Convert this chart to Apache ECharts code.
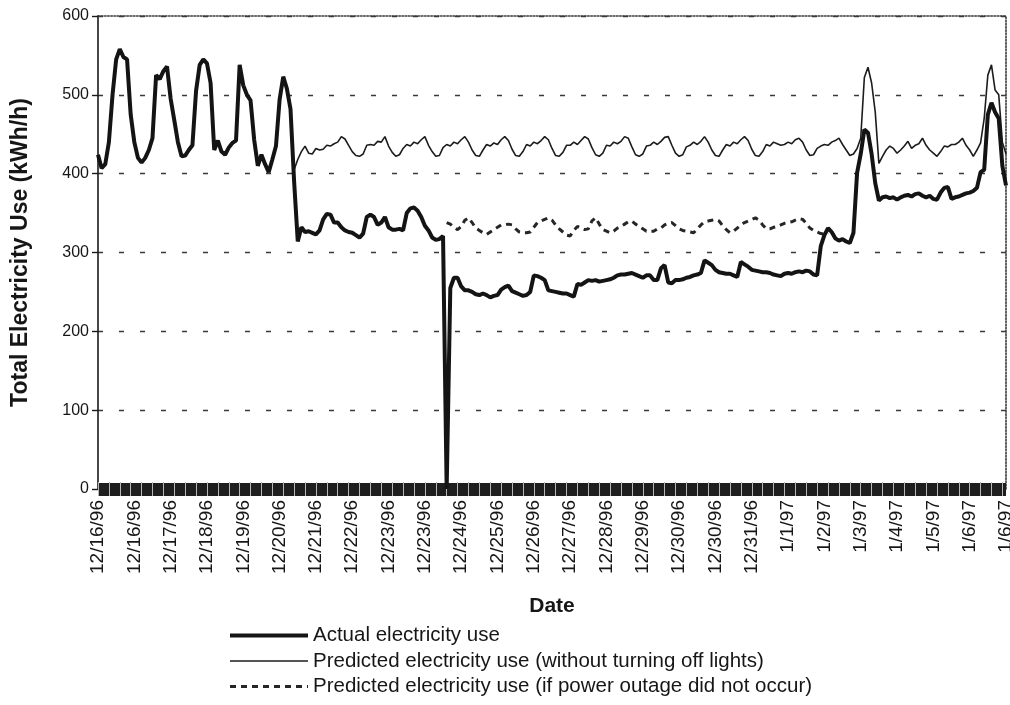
<!DOCTYPE html>
<html>
<head>
<meta charset="utf-8">
<script src="https://cdn.jsdelivr.net/npm/echarts@6/dist/echarts.min.js"></script>
<style>
  html, body { margin: 0; padding: 0; background: #fff; }
  #chart { width: 1010px; height: 705px; }
</style>
</head>
<body>
<div id="chart"></div>
<script>
// Date labels printed under every tenth reading (2-hour readings, 12/16/96 - 1/6/97)
const dateLabels = [
  '12/16/96', '12/16/96', '12/17/96', '12/18/96', '12/19/96', '12/20/96', '12/21/96',
  '12/22/96', '12/23/96', '12/23/96', '12/24/96', '12/25/96', '12/26/96', '12/27/96',
  '12/28/96', '12/29/96', '12/30/96', '12/30/96', '12/31/96', '1/1/97', '1/2/97',
  '1/3/97', '1/4/97', '1/5/97', '1/6/97', '1/6/97'
];

const yTicks = [0, 100, 200, 300, 400, 500, 600];

// Actual electricity use, kWh/h
const actualUse = [
  424, 407, 412, 440, 500, 545, 558, 548, 545, 475,
  440, 420, 414, 420, 430, 445, 525, 520, 530, 536,
  495, 468, 440, 422, 423, 430, 436, 505, 538, 545,
  540, 515, 430, 442, 428, 424, 433, 439, 442, 538,
  512, 500, 493, 443, 410, 424, 412, 402, 418, 435,
  494, 523, 508, 482, 390, 314, 332, 326, 327, 325,
  323, 328, 342, 349, 348, 338, 338, 332, 328, 326,
  325, 322, 319, 324, 345, 348, 345, 335, 338, 345,
  332, 329, 329, 330, 328, 350, 356, 357, 353, 345,
  334, 328, 319, 316, 317, 321, 0, 255, 268, 268,
  257, 252, 252, 250, 247, 246, 248, 246, 243, 245,
  246, 253, 256, 258, 251, 249, 247, 245, 246, 250,
  271, 270, 268, 265, 252, 251, 250, 249, 248, 248,
  246, 244, 260, 259, 262, 265, 264, 265, 263, 264,
  265, 266, 268, 271, 272, 272, 273, 274, 272, 270,
  268, 271, 271, 265, 265, 280, 284, 262, 261, 265,
  265, 266, 268, 269, 271, 272, 274, 290, 287, 284,
  278, 275, 274, 273, 273, 271, 269, 288, 285, 282,
  278, 277, 276, 275, 275, 274, 272, 271, 270, 273,
  274, 273, 275, 276, 275, 277, 276, 272, 271, 308,
  322, 331, 326, 318, 315, 317, 314, 312, 325, 401,
  425, 456, 452, 425, 388, 366, 370, 371, 369, 370,
  367, 370, 372, 373, 371, 374, 375, 372, 370, 372,
  368, 367, 376, 382, 383, 368, 370, 371, 373, 375,
  376, 378, 382, 402, 405, 475, 490, 478, 470, 410,
  385
];

// Predicted electricity use without turning off lights (starts at 12/20 evening)
const predictedLights = [
  null, null, null, null, null, null, null, null, null, null,
  null, null, null, null, null, null, null, null, null, null,
  null, null, null, null, null, null, null, null, null, null,
  null, null, null, null, null, null, null, null, null, null,
  null, null, null, null, null, null, null, null, null, null,
  null, null, null, null, 405, 418, 428, 435, 426, 425,
  432, 430, 431, 436, 435, 438, 440, 447, 444, 436,
  428, 423, 422, 425, 436, 437, 436, 441, 440, 447,
  435, 427, 422, 424, 432, 437, 435, 440, 438, 443,
  447, 436, 428, 422, 423, 433, 437, 435, 440, 438,
  443, 447, 440, 430, 423, 422, 430, 437, 435, 439,
  437, 443, 447, 442, 431, 423, 422, 428, 437, 435,
  440, 438, 442, 447, 443, 432, 423, 422, 427, 436,
  436, 440, 437, 442, 447, 444, 433, 424, 422, 426,
  436, 435, 440, 438, 441, 447, 445, 434, 424, 422,
  425, 435, 436, 440, 437, 441, 446, 447, 436, 426,
  422, 424, 434, 436, 440, 437, 441, 447, 440, 430,
  423, 422, 430, 437, 435, 440, 438, 443, 447, 442,
  431, 423, 422, 428, 437, 435, 440, 438, 436, 437,
  440, 438, 443, 445, 440, 430, 423, 424, 432, 435,
  437, 436, 440, 442, 445, 437, 430, 423, 425, 432,
  445, 522, 535, 515, 478, 413, 422, 430, 435, 432,
  426, 430, 435, 441, 432, 436, 438, 445, 436, 430,
  426, 422, 428, 435, 434, 437, 437, 440, 445, 436,
  430, 422, 430, 439, 470, 525, 538, 506, 500, 440,
  425
];

// Predicted electricity use had the power outage not occurred (12/23 - 1/2)
const predictedOutage = [
  null, null, null, null, null, null, null, null, null, null,
  null, null, null, null, null, null, null, null, null, null,
  null, null, null, null, null, null, null, null, null, null,
  null, null, null, null, null, null, null, null, null, null,
  null, null, null, null, null, null, null, null, null, null,
  null, null, null, null, null, null, null, null, null, null,
  null, null, null, null, null, null, null, null, null, null,
  null, null, null, null, null, null, null, null, null, null,
  null, null, null, null, null, null, null, null, null, null,
  null, null, null, null, null, null, 338, 336, 332, 329,
  333, 341, 344, 338, 331, 328, 325, 323, 326, 329,
  332, 335, 335, 336, 335, 330, 326, 325, 325, 326,
  332, 338, 340, 342, 344, 341, 335, 330, 326, 322,
  321, 328, 333, 331, 329, 330, 340, 344, 336, 329,
  327, 325, 327, 331, 333, 336, 339, 340, 336, 333,
  330, 327, 327, 327, 330, 331, 335, 337, 338, 334,
  330, 328, 327, 326, 325, 330, 335, 339, 340, 341,
  342, 340, 334, 329, 325, 327, 331, 335, 338, 340,
  342, 344, 341, 335, 330, 330, 332, 333, 335, 337,
  338, 339, 341, 343, 342, 337, 331, 328, 326, 324,
  323, 325, null, null, null, null, null, null, null, null,
  null, null, null, null, null, null, null, null, null, null,
  null, null, null, null, null, null, null, null, null, null,
  null, null, null, null, null, null, null, null, null, null,
  null, null, null, null, null, null, null, null, null, null,
  null
];

const categories = actualUse.map((_, i) => i);

const FONT = '"Liberation Sans", Arial, sans-serif';
const INK = '#161616';

const chart = echarts.init(document.getElementById('chart'), null, { renderer: 'canvas' });

chart.setOption({
  backgroundColor: '#ffffff',
  animation: false,
  grid: {
    left: 98, right: 4, top: 16, bottom: 216,
    outerBoundsMode: 'none',
    containLabel: false
  },
  legend: {
    orient: 'vertical',
    left: 223,
    top: 620,
    itemWidth: 78,
    itemHeight: 12,
    itemGap: 4.5,
    itemStyle: { opacity: 0 },
    lineStyle: { width: 'inherit' },
    textStyle: { fontFamily: FONT, fontSize: 20.5, color: INK, lineHeight: 20 },
    data: [
      'Actual electricity use',
      'Predicted electricity use (without turning off lights)',
      'Predicted electricity use (if power outage did not occur)'
    ]
  },
  xAxis: [
    {
      type: 'category',
      data: categories,
      boundaryGap: false,
      name: 'Date',
      nameLocation: 'middle',
      nameGap: 107,
      nameTextStyle: { fontFamily: FONT, fontSize: 21, fontWeight: 'bold', color: INK },
      axisLine: { show: true, onZero: true, lineStyle: { color: '#1e1e1e', width: 13, cap: 'butt' } },
      axisTick: { show: true, interval: 2, inside: false, length: 7, lineStyle: { color: '#b8b8b8', width: 1 } },
      axisLabel: {
        show: true,
        interval: 9,
        rotate: 90,
        margin: 11,
        fontFamily: FONT,
        fontSize: 19,
        color: INK,
        formatter: (value, index) => dateLabels[index / 10]
      },
      splitLine: { show: false }
    },
    {
      // upper half of the tick band
      type: 'category',
      data: categories,
      boundaryGap: false,
      position: 'bottom',
      axisLine: { show: false },
      axisTick: { show: true, interval: 2, inside: true, length: 7, lineStyle: { color: '#b8b8b8', width: 1 } },
      axisLabel: { show: false },
      splitLine: { show: false }
    },
    {
      // dotted plot-area border along the top
      type: 'category',
      data: categories,
      boundaryGap: false,
      position: 'top',
      axisLine: { show: true, onZero: false, lineStyle: { color: '#3a3a3a', width: 1.6, type: 'dotted' } },
      axisTick: { show: false },
      axisLabel: { show: false },
      splitLine: { show: false }
    }
  ],
  yAxis: [
    {
      type: 'value',
      min: yTicks[0],
      max: yTicks[yTicks.length - 1],
      interval: 100,
      name: 'Total Electricity Use (kWh/h)',
      nameLocation: 'middle',
      nameGap: 66,
      nameTextStyle: { fontFamily: FONT, fontSize: 23, fontWeight: 'bold', color: INK },
      axisLine: { show: true, lineStyle: { color: '#1a1a1a', width: 1.6 } },
      axisTick: { show: true, length: 6, lineStyle: { color: '#1a1a1a', width: 1.4 } },
      axisLabel: { margin: 9, fontFamily: FONT, fontSize: 16, color: INK },
      splitLine: { show: true, lineStyle: { color: '#3a3a3a', width: 1.4, type: [5, 16] } }
    },
    {
      // dotted plot-area border along the right side
      type: 'value',
      min: yTicks[0],
      max: yTicks[yTicks.length - 1],
      interval: 100,
      position: 'right',
      axisLine: { show: true, onZero: false, lineStyle: { color: '#3a3a3a', width: 1.6, type: 'dotted' } },
      axisTick: { show: false },
      axisLabel: { show: false },
      splitLine: { show: false }
    }
  ],
  series: [
    {
      name: 'Actual electricity use',
      type: 'line',
      data: actualUse,
      symbol: 'none',
      z: 5,
      color: '#141414',
      lineStyle: { color: '#141414', width: 4 }
    },
    {
      name: 'Predicted electricity use (without turning off lights)',
      type: 'line',
      data: predictedLights,
      symbol: 'none',
      z: 4,
      color: '#1c1c1c',
      lineStyle: { color: '#1c1c1c', width: 1.6 }
    },
    {
      name: 'Predicted electricity use (if power outage did not occur)',
      type: 'line',
      data: predictedOutage,
      symbol: 'none',
      z: 3,
      color: '#262626',
      lineStyle: { color: '#262626', width: 3, type: [6, 5] }
    }
  ]
});
</script>
</body>
</html>
